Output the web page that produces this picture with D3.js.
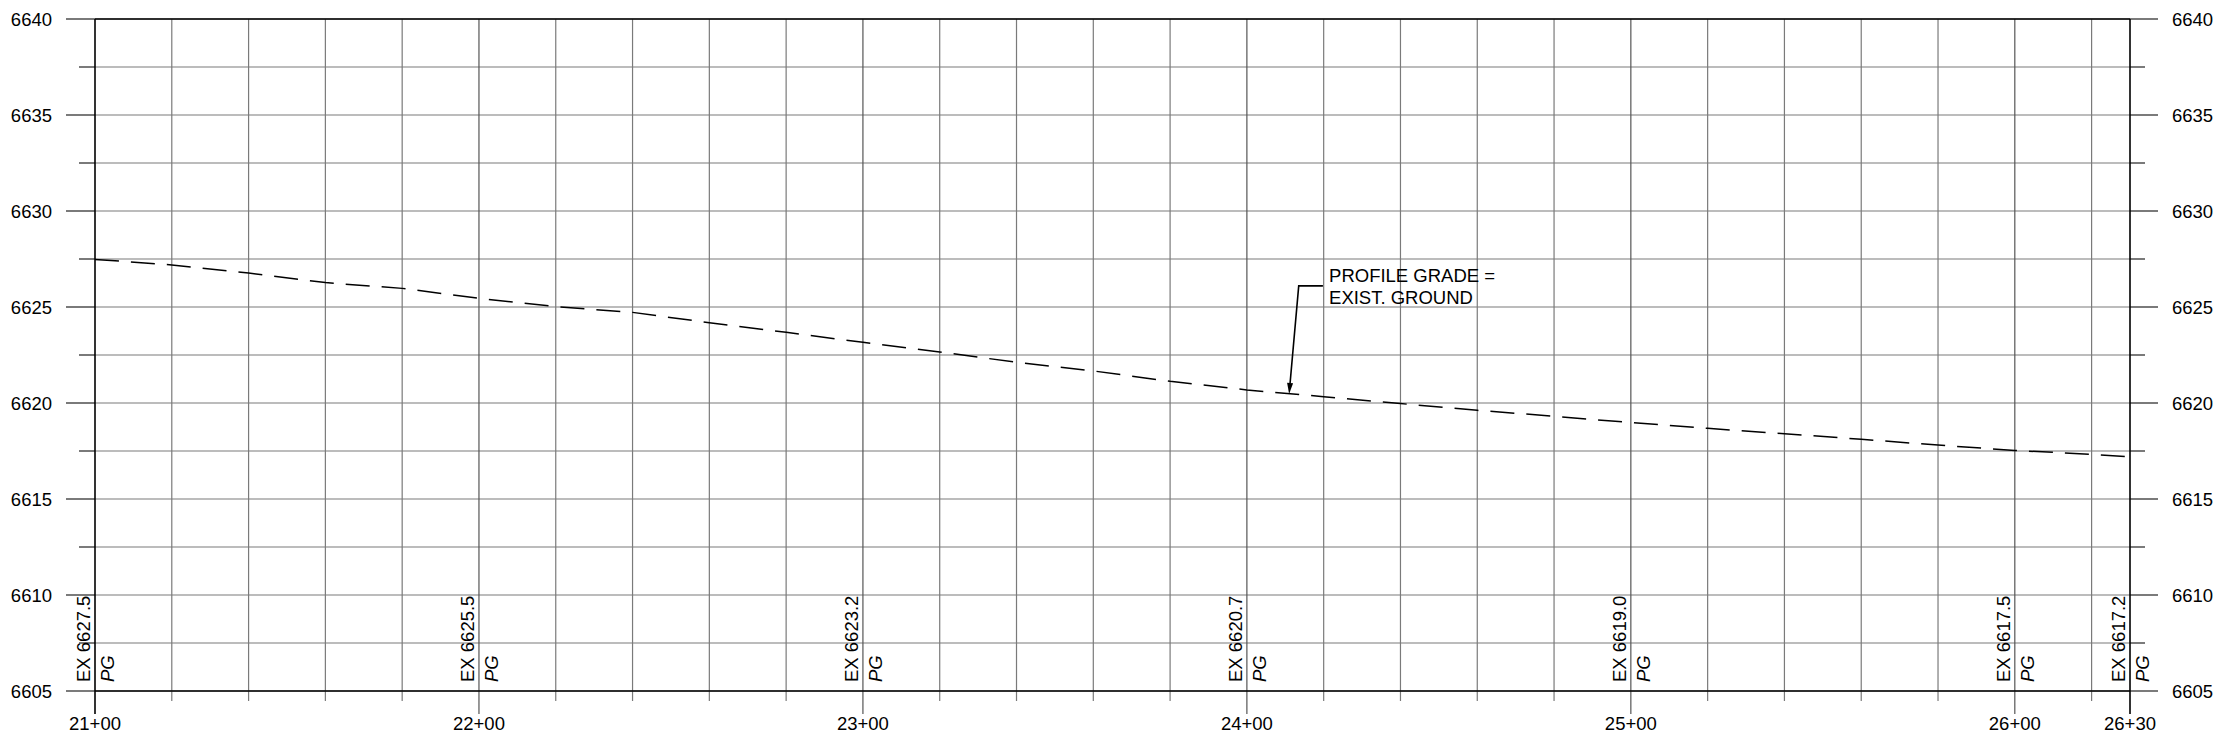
<!DOCTYPE html>
<html>
<head>
<meta charset="utf-8">
<script src="https://cdn.jsdelivr.net/npm/d3@7"></script>
<style>
  html, body { margin: 0; padding: 0; background: #fff; }
  svg { display: block; }
  text { font-family: "Liberation Sans", Arial, sans-serif; fill: #000; }
</style>
</head>
<body>
<svg id="chart" width="2221" height="741"></svg>
<script>
// ---------- data ----------
const profileStations = [2100, 2120, 2140, 2160, 2180, 2200, 2220, 2240, 2260, 2280, 2300, 2320, 2340, 2360,
  2380, 2400, 2420, 2440, 2460, 2480, 2500, 2520, 2540, 2560, 2580, 2600, 2620, 2630];
const profileElev = [6627.48, 6627.19, 6626.77, 6626.27, 6625.97, 6625.45, 6625.02, 6624.72, 6624.18, 6623.68,
  6623.16, 6622.66, 6622.12, 6621.67, 6621.13, 6620.68, 6620.33, 6619.97, 6619.62, 6619.31, 6618.98, 6618.68,
  6618.40, 6618.11, 6617.81, 6617.53, 6617.33, 6617.19];

const labelStations = [2100, 2200, 2300, 2400, 2500, 2600, 2630];
const labelTexts = ["EX 6627.5", "EX 6625.5", "EX 6623.2", "EX 6620.7", "EX 6619.0", "EX 6617.5", "EX 6617.2"];
const labelSuffix = "PG";

const xMajorTicks = [2100, 2200, 2300, 2400, 2500, 2600, 2630];
const xMinorTicks = d3.range(2120, 2630, 20).filter(s => s % 100 !== 0);
const yMajorTicks = [6605, 6610, 6615, 6620, 6625, 6630, 6635, 6640];
const yMinorTicks = [6607.5, 6612.5, 6617.5, 6622.5, 6627.5, 6632.5, 6637.5];

const annotationLines = ["PROFILE GRADE =", "EXIST. GROUND"];
const annotationTextAt = [2421.4, 6626.3];   // station, elevation of text anchor
const annotationElbow = [[2419.8, 6626.1], [2413.5, 6626.1]];
const annotationTip = [2411, 6620.47];

const stationFormat = s => Math.floor(s / 100) + "+" + String(s % 100).padStart(2, "0");

// ---------- layout ----------
const svg = d3.select("#chart");
const x = d3.scaleLinear().domain([2100, 2630]).range([95, 2130]);
const y = d3.scaleLinear().domain([6605, 6640]).range([691, 19]);
const x0 = x.range()[0], x1 = x.range()[1];
const yTop = y.range()[1], yBot = y.range()[0];
const gridColor = "#7a7a7a";
const fontSize = 18.5;

// horizontal grid lines + ticks on both sides
const hAll = yMajorTicks.concat(yMinorTicks);
svg.append("g").selectAll("line").data(hAll).join("line")
  .attr("x1", x0).attr("x2", x1)
  .attr("y1", d => y(d)).attr("y2", d => y(d))
  .attr("stroke", gridColor).attr("stroke-width", 1.2);

// left ticks
svg.append("g").selectAll("line").data(hAll).join("line")
  .attr("x1", d => yMajorTicks.includes(d) ? x0 - 29 : x0 - 16).attr("x2", x0)
  .attr("y1", d => y(d)).attr("y2", d => y(d))
  .attr("stroke", "#222").attr("stroke-width", 1.2);
// right ticks
svg.append("g").selectAll("line").data(hAll).join("line")
  .attr("x1", x1).attr("x2", d => yMajorTicks.includes(d) ? x1 + 28 : x1 + 15)
  .attr("y1", d => y(d)).attr("y2", d => y(d))
  .attr("stroke", "#222").attr("stroke-width", 1.2);

// vertical grid lines with ticks below
svg.append("g").selectAll("line").data(xMinorTicks).join("line")
  .attr("x1", d => x(d)).attr("x2", d => x(d))
  .attr("y1", yTop).attr("y2", yBot + 10)
  .attr("stroke", gridColor).attr("stroke-width", 1.2);
svg.append("g").selectAll("line").data(xMajorTicks.filter(s => s !== 2100 && s !== 2630)).join("line")
  .attr("x1", d => x(d)).attr("x2", d => x(d))
  .attr("y1", yTop).attr("y2", yBot + 23)
  .attr("stroke", "#555").attr("stroke-width", 1.2);

// frame
svg.append("line").attr("x1", x0).attr("x2", x1).attr("y1", yTop).attr("y2", yTop)
  .attr("stroke", "#000").attr("stroke-width", 1.6);
svg.append("line").attr("x1", x0).attr("x2", x1).attr("y1", yBot).attr("y2", yBot)
  .attr("stroke", "#000").attr("stroke-width", 1.6);
svg.append("line").attr("x1", x0).attr("x2", x0).attr("y1", yTop).attr("y2", yBot + 23)
  .attr("stroke", "#000").attr("stroke-width", 1.6);
svg.append("line").attr("x1", x1).attr("x2", x1).attr("y1", yTop).attr("y2", yBot + 23)
  .attr("stroke", "#000").attr("stroke-width", 1.6);

// y labels
svg.append("g").selectAll("text").data(yMajorTicks).join("text")
  .attr("x", x0 - 43).attr("y", d => y(d)).attr("dy", "0.36em")
  .attr("text-anchor", "end").attr("font-size", fontSize).text(d => d);
svg.append("g").selectAll("text").data(yMajorTicks).join("text")
  .attr("x", x1 + 42).attr("y", d => y(d)).attr("dy", "0.36em")
  .attr("text-anchor", "start").attr("font-size", fontSize).text(d => d);

// x labels
svg.append("g").selectAll("text").data(xMajorTicks).join("text")
  .attr("x", d => x(d)).attr("y", yBot + 39)
  .attr("text-anchor", "middle").attr("font-size", fontSize).text(stationFormat);

// rotated station labels
const lbl = svg.append("g");
lbl.selectAll("text.ex").data(labelStations).join("text").attr("class", "ex")
  .attr("transform", d => `translate(${x(d) - 5},${yBot - 9}) rotate(-90)`)
  .attr("font-size", fontSize).text((d, i) => labelTexts[i]);
lbl.selectAll("text.pg").data(labelStations).join("text").attr("class", "pg")
  .attr("transform", d => `translate(${x(d) + 19},${yBot - 9}) rotate(-90)`)
  .attr("font-size", fontSize).attr("font-style", "italic").text(labelSuffix);

// profile line
const line = d3.line().x((d, i) => x(profileStations[i])).y(d => y(d));
svg.append("path").datum(profileElev)
  .attr("d", line).attr("fill", "none")
  .attr("stroke", "#000").attr("stroke-width", 1.5)
  .attr("stroke-dasharray", "24,12");

// annotation
const ann = svg.append("g");
ann.selectAll("text").data(annotationLines).join("text")
  .attr("x", x(annotationTextAt[0])).attr("y", (d, i) => y(annotationTextAt[1]) + i * 22)
  .attr("font-size", fontSize).text(d => d);
const pts = annotationElbow.concat([annotationTip]).map(p => [x(p[0]), y(p[1])]);
const tip = pts[pts.length - 1], prev = pts[pts.length - 2];
const ang = Math.atan2(tip[1] - prev[1], tip[0] - prev[0]);
const headLen = 11, headW = 3;
const base = [tip[0] - headLen * Math.cos(ang), tip[1] - headLen * Math.sin(ang)];
const linePts = pts.slice(0, -1).concat([base]);
ann.append("path").attr("d", d3.line()(linePts)).attr("fill", "none")
  .attr("stroke", "#000").attr("stroke-width", 1.6);
const perp = [-Math.sin(ang), Math.cos(ang)];
ann.append("path")
  .attr("d", d3.line()([tip,
    [base[0] + perp[0] * headW, base[1] + perp[1] * headW],
    [base[0] - perp[0] * headW, base[1] - perp[1] * headW]]) + "Z")
  .attr("fill", "#000");
</script>
</body>
</html>
